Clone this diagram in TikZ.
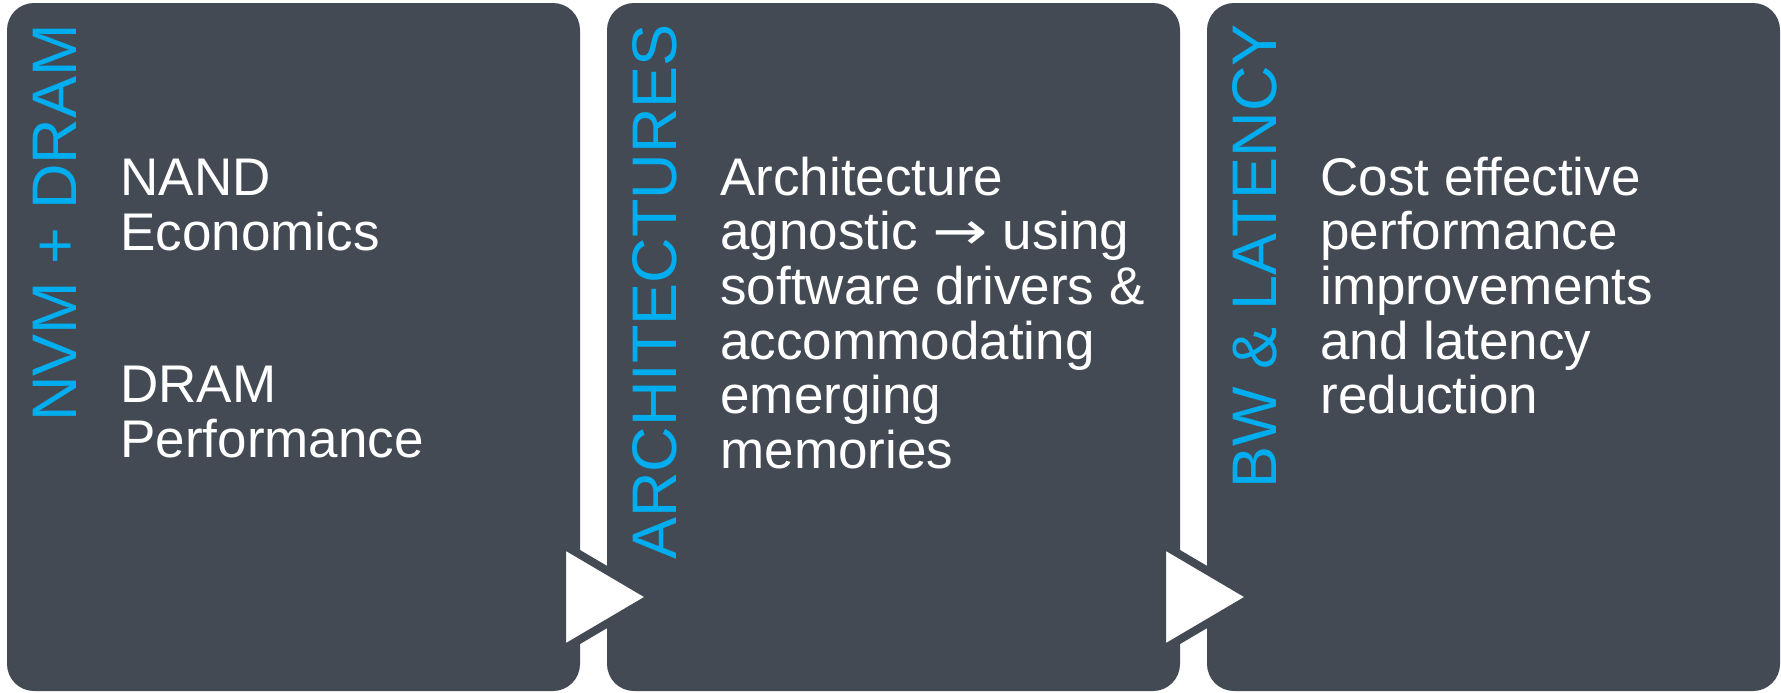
\documentclass[tikz,border=0pt]{standalone}
\usepackage{graphicx}
\usepackage{fontspec}
\setmainfont{Liberation Sans}
\newfontfamily\arrowfont{DejaVu Sans}
\definecolor{panelgrey}{RGB}{68,74,84}
\definecolor{headcyan}{RGB}{0,174,239}
\begin{document}
\begin{tikzpicture}[x=0.5pt,y=-0.5pt,
  panel/.style={fill=panelgrey, draw=none, rounded corners=13.5pt,
    minimum width=286.5pt, minimum height=344pt, inner sep=0pt},
  heading/.style={rotate=90, anchor=base east, inner sep=0pt, text=headcyan,
    font=\fontsize{31.5pt}{36pt}\selectfont},
  % multi-line texts are placed by the baseline of their last line
  body/.style={anchor=base west, inner sep=0pt, text=white, align=left,
    font=\fontsize{26.5pt}{27.35pt}\selectfont},
  flow/.style={fill=white, draw=panelgrey, line width=4pt, line join=miter}]
\useasboundingbox (0,0) rectangle (1781,692);

% three stage panels
\node[panel] (p1) at (293.5,347) {};
\node[panel] (p2) at (893.5,347) {};
\node[panel] (p3) at (1493.5,347) {};

% vertical stage headings
\node[heading] (h1) at (76,24) {NVM + DRAM};
\node[heading] (h2) at (676,24) {ARCHITECTURES};
\node[heading] (h3) at (1276,24) {BW \& LATENCY};

% stage descriptions
\node[body] (t1a) at (120,250) {NAND\\Economics};
\node[body] (t1b) at (120,457) {DRAM\\Performance};
\node[body] (t2) at (720,468.5) {Architecture\\agnostic \scalebox{1.25}[1]{\arrowfont →} using\\software drivers \&\\accommodating\\emerging\\memories};
\node[body] (t3) at (1320,413.8) {Cost effective\\performance\\improvements\\and latency\\reduction};

% flow markers between the panels
\draw[flow] (562,544) -- (562,650) -- (652,597) -- cycle;
\draw[flow] (1162,544) -- (1162,650) -- (1252,597) -- cycle;
\end{tikzpicture}
\end{document}
